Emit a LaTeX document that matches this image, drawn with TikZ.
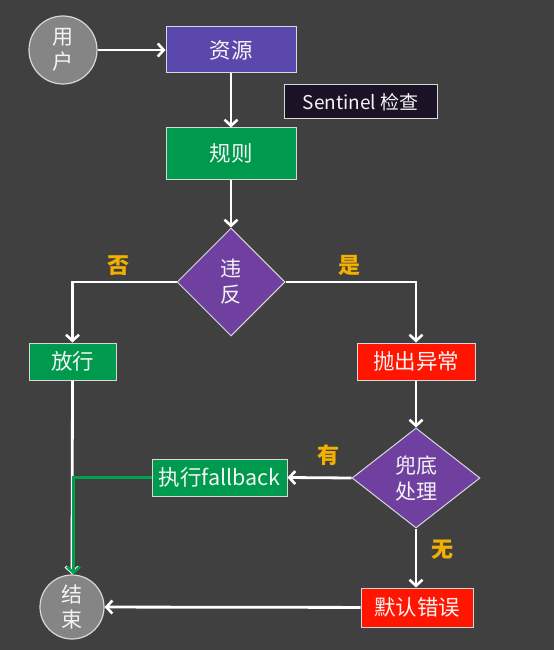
\documentclass[tikz,border=0pt]{standalone}
\usepackage{fontspec}
\setmainfont{Noto Sans CJK SC}
\usetikzlibrary{shapes.geometric,arrows.meta}
\definecolor{bg}{HTML}{404040}
\definecolor{respurple}{HTML}{5B48AC}
\definecolor{diapurple}{HTML}{7040A0}
\definecolor{gbox}{HTML}{009A4E}
\definecolor{rbox}{HTML}{FF1500}
\definecolor{sbox}{HTML}{1C1226}
\definecolor{lbl}{HTML}{F2B100}
\definecolor{cgray}{HTML}{858585}
\definecolor{txt}{HTML}{F4F4F4}
\definecolor{edge}{HTML}{D8D8D8}
\definecolor{gline}{HTML}{00A050}
\begin{document}
\begin{tikzpicture}[x=1pt,y=-1pt,
  box/.style={draw=edge,line width=1pt,text=txt,font=\fontsize{21.5}{23}\selectfont,inner sep=0pt,anchor=center},
  dia/.style={diamond,draw=edge,line width=1pt,fill=diapurple,text=txt,font=\fontsize{21}{26}\selectfont,inner sep=0pt,align=center},
  circ/.style={circle,draw=edge,line width=1.2pt,fill=cgray,text=txt,font=\fontsize{21}{25}\selectfont,inner sep=0pt,align=center},
  conn/.style={draw=white,line width=2.8pt,-{Straight Barb[length=6pt,width=13pt,line width=2.6pt]}},
  yn/.style={text=lbl,font=\bfseries\fontsize{22}{24}\selectfont}
]
\fill[bg] (0,0) rectangle (554,650);
\node[circ,minimum size=68pt] (user) at (63,50) {用\\户};
\node[box,fill=respurple,minimum width=130pt,minimum height=46pt] (res) at (231,50) {资源};
\node[box,fill=sbox,minimum width=153pt,minimum height=34pt,font=\fontsize{19}{20}\selectfont] (sen) at (360.5,102) {Sentinel 检查};
\node[box,fill=gbox,minimum width=130pt,minimum height=51pt] (rule) at (231,153.5) {规则};
\node[dia,minimum width=108pt,minimum height=108pt] (vio) at (231,282) {违\\反};
\node[box,fill=gbox,minimum width=87pt,minimum height=37pt] (pass) at (72.5,361.5) {放行};
\node[box,fill=rbox,minimum width=118pt,minimum height=37pt] (thr) at (416,361.5) {抛出异常};
\node[dia,minimum width=128pt,minimum height=100pt] (fb) at (416,478) {兜底\\处理};
\node[box,fill=gbox,minimum width=135pt,minimum height=37pt] (exe) at (219.5,477.5) {执行fallback};
\node[box,fill=rbox,minimum width=112pt,minimum height=39pt] (def) at (417,607.5) {默认错误};
\node[circ,minimum size=64pt] (end) at (72,607) {结\\束};
\node[yn] (no) at (118,266) {否};
\node[yn] (yes) at (349,265) {是};
\node[yn] (have) at (328,455) {有};
\node[yn] (none) at (442,550) {无};
\draw[conn] (user) -- (res);
\draw[conn] (res) -- (rule);
\draw[conn] (rule) -- (vio);
\draw[conn] (vio.west) -| (pass.north);
\draw[conn] (vio.east) -| (thr.north);
\draw[conn] (thr) -- (fb);
\draw[conn] (fb.west) -- (exe.east);
\draw[conn] (fb.south) -- (def.north -| fb.south);
\draw[conn] (def) -- (end);
\draw[conn] (pass.south) -- (end.north);
\draw[conn,draw=gline] (exe.west) -| ([xshift=1.5pt]end.north);
\end{tikzpicture}
\end{document}
